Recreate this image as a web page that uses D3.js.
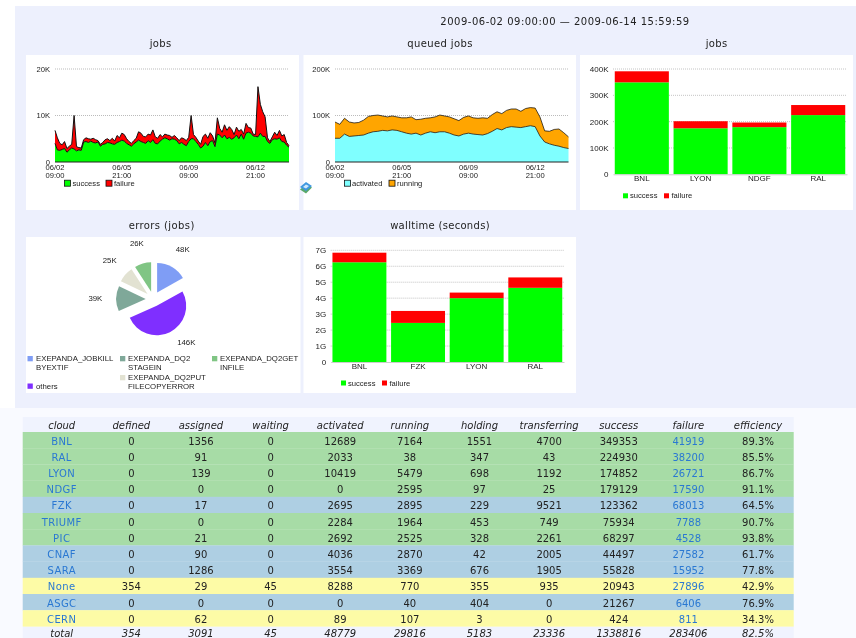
<!DOCTYPE html>
<html><head><meta charset="utf-8">
<script src="https://cdn.jsdelivr.net/npm/d3@7/dist/d3.min.js"></script>
<style>
html,body{margin:0;padding:0;background:#fff;overflow:hidden}
svg{display:block;filter:blur(0.5px)}
text{font-family:"Liberation Sans",sans-serif;fill:#222}
.ttl{font-family:"DejaVu Sans",sans-serif;font-size:10px;text-anchor:middle;fill:#222}
.tb{font-family:"DejaVu Sans",sans-serif;font-size:10px;text-anchor:middle}
</style></head><body>
<svg id="c" width="856" height="638"></svg>
<script>
// ---- time series: jobs (thousands, every 3 hours)
const jobsSuccess=[4.0,2.6,2.5,2.7,2.9,2.1,2.6,3.0,2.8,2.4,2.6,2.5,4.3,4.4,4.2,4.5,4.2,4.1,4.3,3.4,3.8,3.9,4.2,4.1,3.9,3.8,4.2,4.4,4.7,4.5,4.0,3.7,3.4,3.9,4.3,4.7,4.4,4.2,4.0,4.6,4.2,4.8,4.0,3.9,4.5,4.9,5.2,5.0,4.7,5.0,4.9,4.6,3.9,4.2,3.8,3.5,4.4,5.0,5.0,4.4,3.8,3.0,3.4,4.2,3.5,4.4,4.6,3.3,6.0,5.8,5.2,5.8,5.0,5.3,4.9,5.2,5.8,5.0,6.0,4.9,6.2,6.4,6.2,5.6,5.5,5.4,6.2,5.5,5.5,4.4,4.0,4.8,5.0,4.9,5.2,4.4,4.3,3.6,3.2];
const jobsFailure=[2.8,2.6,1.5,1.0,1.5,.8,.8,.8,7.2,.9,.5,.5,.5,.8,.8,.4,.9,.7,.3,.4,.4,.9,.8,.5,1.2,.7,1.5,.8,1.5,1.4,1.0,.7,.6,.7,.8,1.8,1.8,1.3,1.4,1.4,1.6,2.1,1.4,1.2,1.4,.5,.8,.8,1.0,.3,.8,.6,.7,1.0,1.2,1.1,.9,5.0,.9,.9,.7,.8,2.1,1.8,1.6,1.9,1.0,.8,3.5,1.4,1.2,2.2,1.8,2.3,2.1,.7,1.7,1.6,1.0,1.1,2.1,1.0,1.1,.4,.4,10.8,6.2,5.3,4.2,.8,.4,.6,1.4,.8,1.6,1.2,1.6,.6,.3];
// ---- time series: queued jobs (thousands, every 6 hours)
const queuedActivated=[51,51,60,55,56,57,58,62,65,66,68,67,69,68,65,62,60,62,58,62,65,63,65,65,62,58,56,60,62,60,59,58,61,66,72,69,74,76,75,74,76,78,76,56,43,39,36,34,31,29];
const queuedRunning=[35,30,34,31,28,28,32,36,35,35,31,30,30,29,30,33,37,29,34,32,30,34,36,34,35,35,33,36,37,35,35,37,33,36,36,35,37,38,39,35,39,39,40,41,24,27,34,37,32,25];
const timeTicks=["2009-06-02T09:00Z","2009-06-05T21:00Z","2009-06-09T09:00Z","2009-06-12T21:00Z"];
// ---- bars
const jobsClouds=["BNL","LYON","NDGF","RAL"];
const jobsBarSuccess=[349353,174852,179129,224930];
const jobsBarFailure=[41919,26721,17590,38200];
const wallClouds=["BNL","FZK","LYON","RAL"];
const wallSuccess=[6.25e9,2.45e9,4.0e9,4.65e9];
const wallFailure=[0.6e9,0.75e9,0.35e9,0.65e9];
// ---- pie
const errorNames=[["EXEPANDA_JOBKILL","BYEXTIF"],["others"],["EXEPANDA_DQ2","STAGEIN"],["EXEPANDA_DQ2PUT","FILECOPYERROR"],["EXEPANDA_DQ2GET","INFILE"]];
const errorValues=[48,146,39,25,26];
const errorColors=["#7f9df5","#7f2fff","#7fa899","#e2e2d2","#80c584"];
// ---- table
const tableHead=["cloud","defined","assigned","waiting","activated","running","holding","transferring","success","failure","efficiency"];
const tClouds=["BNL","RAL","LYON","NDGF","FZK","TRIUMF","PIC","CNAF","SARA","None","ASGC","CERN"];
const tKinds=["g","g","g","g","b","g","g","b","b","y","b","y"];
const tDefined=[0,0,0,0,0,0,0,0,0,354,0,0];
const tAssigned=[1356,91,139,0,17,0,21,90,1286,29,0,62];
const tWaiting=[0,0,0,0,0,0,0,0,0,45,0,0];
const tActivated=[12689,2033,10419,0,2695,2284,2692,4036,3554,8288,0,89];
const tRunning=[7164,38,5479,2595,2895,1964,2525,2870,3369,770,40,107];
const tHolding=[1551,347,698,97,229,453,328,42,676,355,404,3];
const tTransferring=[4700,43,1192,25,9521,749,2261,2005,1905,935,0,0];
const tSuccess=[349353,224930,174852,179129,123362,75934,68297,44497,55828,20943,21267,424];
const tFailure=[41919,38200,26721,17590,68013,7788,4528,27582,15952,27896,6406,811];
const tEfficiency=["89.3%","85.5%","86.7%","91.1%","64.5%","90.7%","93.8%","61.7%","77.8%","42.9%","76.9%","34.3%"];
const tTotal=["total","354","3091","45","48779","29816","5183","23336","1338816","283406","82.5%"];

const svg=d3.select("#c");
const rect=(g,x,y,w,h,f)=>g.append("rect").attr("x",x).attr("y",y).attr("width",w).attr("height",h).attr("fill",f);
rect(svg,0,0,856,638,"#f9faff");
rect(svg,0,0,856,6,"#fff");
rect(svg,0,0,15,408,"#fff");
rect(svg,15,6,841,402,"#edf0fd");
[[26,55,273,155],[303.5,55,272.5,155],[580,55,273,155],[26,237,274.5,156],[303.5,237,272.5,156]].forEach(b=>rect(svg,b[0],b[1],b[2],b[3],"#fff"));

const title=(t,x,y,ls)=>svg.append("text").attr("class","ttl").attr("x",x).attr("y",y).attr("dy","0.35em").attr("letter-spacing",ls||0).text(t);
title("2009-06-02 09:00:00 \u2014 2009-06-14 15:59:59",565,21,0.5);
title("jobs",160.7,43,.4);title("queued jobs",440,43,.4);title("jobs",716.7,43,.4);
title("errors (jobs)",161.7,225,.4);title("walltime (seconds)",440,225,.3);

const fmtK=v=>v===0?"0":(v/1000)+"K";
function legend(x,y,items,stroke){
  items.forEach(it=>{
    const g=svg.append("g");
    if(stroke) g.append("rect").attr("x",it.x).attr("y",y-3.5).attr("width",6).attr("height",6).attr("fill",it.c).attr("stroke","#111").attr("stroke-width",.8);
    else g.append("rect").attr("x",it.x).attr("y",y-2.5).attr("width",5).attr("height",5).attr("fill",it.c);
    g.append("text").attr("x",it.tx).attr("y",y).attr("dy","0.33em").attr("font-size",7.6).text(it.t);
  });
}
function areaChart(cfg){
  const n=cfg.a.length,t0=Date.UTC(2009,5,2,9);
  const dates=d3.range(n).map(i=>new Date(t0+i*cfg.stepH*3600e3));
  const x=d3.scaleTime().domain([t0,d3.max(dates)]).range([cfg.x0,cfg.x1]);
  const y=d3.scaleLinear().domain([0,cfg.max]).range([162,69]);
  const ax=d3.axisLeft(y).tickValues(cfg.ticks).tickSize(0).tickPadding(5).tickFormat(fmtK);
  const g=svg.append("g");
  g.append("g").selectAll("line").data(cfg.ticks.slice(1)).join("line")
   .attr("x1",cfg.x0).attr("x2",cfg.x1).attr("y1",y).attr("y2",y)
   .attr("stroke","#aaa").attr("stroke-width",.8).attr("stroke-dasharray","1,1");
  const rows=dates.map((d,i)=>({d,a:cfg.a[i],b:cfg.b[i]}));
  const st=d3.stack().keys(["a","b"])(rows);
  const area=d3.area().x(d=>x(d.data.d)).y0(d=>y(d[0])).y1(d=>y(d[1]));
  const top=d3.line().x(d=>x(d.data.d)).y(d=>y(d[1]));
  g.selectAll(".ar").data(st).join("path").attr("d",area).attr("fill",(d,i)=>[cfg.ca,cfg.cb][i]);
  g.selectAll(".ln").data(st).join("path").attr("d",top).attr("fill","none").attr("stroke","#111").attr("stroke-width",cfg.lw);
  g.append("line").attr("x1",cfg.x0).attr("x2",cfg.x1).attr("y1",162).attr("y2",162).attr("stroke","#222").attr("stroke-width",1);
  const ya=g.append("g").attr("transform",`translate(${cfg.x0},0)`).call(ax);
  ya.select(".domain").remove();
  ya.selectAll("text").attr("font-size",7.6).attr("font-family",'"Liberation Sans"');
  timeTicks.forEach(s=>{
    const d=new Date(s),px=x(d);
    g.append("text").attr("x",px).attr("y",167).attr("dy","0.33em").attr("text-anchor","middle").attr("font-size",7.6).text(d3.utcFormat("%m/%d")(d));
    g.append("text").attr("x",px).attr("y",175).attr("dy","0.33em").attr("text-anchor","middle").attr("font-size",7.6).text(d3.utcFormat("%H:%M")(d));
  });
}
areaChart({a:jobsSuccess.map(v=>v*1000),b:jobsFailure.map(v=>v*1000),stepH:3,x0:55,x1:289,max:20000,ticks:[0,10000,20000],ca:"#00ff00",cb:"#ff0000",lw:1});
areaChart({a:queuedActivated.map(v=>v*1000),b:queuedRunning.map(v=>v*1000),stepH:6,x0:335,x1:568.5,max:200000,ticks:[0,100000,200000],ca:"#7fffff",cb:"#ffa500",lw:.75});
legend(0,183.7,[{x:64.5,tx:72.5,c:"#00ff00",t:"success"},{x:106,tx:114,c:"#ff0000",t:"failure"}],true);
legend(0,183.7,[{x:344.5,tx:352,c:"#7fffff",t:"activated"},{x:389,tx:397,c:"#ffa500",t:"running"}],true);

function barChart(cfg){
  const x=d3.scaleBand().domain(cfg.cats).range([cfg.x0,cfg.x1]).paddingInner(.08).paddingOuter(.03);
  const y=d3.scaleLinear().domain([0,cfg.max]).range([cfg.y0,cfg.y1]);
  const g=svg.append("g");
  g.selectAll(".gr").data(cfg.ticks.slice(1)).join("line").attr("x1",cfg.x0).attr("x2",cfg.x1).attr("y1",y).attr("y2",y)
    .attr("stroke","#b5b5b5").attr("stroke-width",.8).attr("stroke-dasharray","1,1");
  const rows=cfg.cats.map((c,i)=>({c,s:cfg.s[i],f:cfg.f[i]}));
  const st=d3.stack().keys(["s","f"])(rows);
  g.selectAll(".l").data(st).join("g").attr("fill",(d,i)=>["#00ff00","#ff0000"][i])
   .selectAll("rect").data(d=>d).join("rect")
   .attr("x",d=>x(d.data.c)).attr("width",x.bandwidth()).attr("y",d=>y(d[1])).attr("height",d=>y(d[0])-y(d[1]));
  const xa=g.append("g").attr("transform",`translate(0,${cfg.y0})`).call(d3.axisBottom(x).tickSize(0).tickPadding(1.5));
  xa.select(".domain").attr("stroke","#ccc");
  xa.selectAll("text").attr("font-size",8).attr("font-family",'"Liberation Sans"');
  const ya=g.append("g").attr("transform",`translate(${cfg.x0},0)`).call(d3.axisLeft(y).tickValues(cfg.ticks).tickSize(0).tickPadding(4.5).tickFormat(cfg.fmt));
  ya.select(".domain").remove();
  ya.selectAll("text").attr("font-size",8).attr("font-family",'"Liberation Sans"');
}
barChart({cats:jobsClouds,s:jobsBarSuccess,f:jobsBarFailure,x0:613,x1:847,y0:174.3,y1:69,max:400000,ticks:[0,1e5,2e5,3e5,4e5],fmt:fmtK});
legend(0,195.8,[{x:623,tx:630,c:"#00ff00",t:"success"},{x:664,tx:671.5,c:"#ff0000",t:"failure"}]);
barChart({cats:wallClouds,s:wallSuccess,f:wallFailure,x0:330.7,x1:564,y0:362,y1:250.3,max:7e9,ticks:d3.range(0,8).map(v=>v*1e9),fmt:v=>v===0?"0":(v/1e9)+"G"});
legend(0,383,[{x:341,tx:348,c:"#00ff00",t:"success"},{x:382,tx:389.5,c:"#ff0000",t:"failure"}]);

// pie
const pie=d3.pie().sort(null)(errorValues);
const R=29.5,EX=7.6,LR=58,cx=153.3,cy=299;
const arc=d3.arc().innerRadius(0).outerRadius(R);
const pg=svg.append("g").attr("transform",`translate(${cx},${cy})`);
pie.forEach((p,i)=>{
  const m=(p.startAngle+p.endAngle)/2;
  pg.append("path").attr("d",arc(p)).attr("fill",errorColors[i]).attr("transform",`translate(${Math.sin(m)*EX},${-Math.cos(m)*EX})`);
  pg.append("text").attr("x",Math.sin(m)*LR+(i===1?7:0)).attr("y",-Math.cos(m)*LR-(i===1?8:0)).attr("dy","0.33em").attr("text-anchor","middle").attr("font-size",7.8).text(d3.format("d")(errorValues[i])+"K");
});
const legendPos=[[27.5,36,358.5],[27.5,36,386],[120,128,358.5],[120,128,377.5],[212,220,358.5]];
errorNames.forEach((nm,i)=>{
  const [sx,tx,y]=legendPos[i];
  rect(svg,sx,y-2.5,5.3,5.3,errorColors[i]);
  nm.forEach((s,j)=>svg.append("text").attr("x",tx).attr("y",y+j*8.6).attr("dy","0.33em").attr("font-size",7.8).text(s));
});

// small icon
const ic=svg.append("g").attr("transform","translate(306,187)");
ic.append("path").attr("d","M-6,1 L0,5 L6,-1 L0,-4 Z").attr("fill","#5aa86a").attr("transform","translate(0,1.5)");
ic.append("path").attr("d","M-6,0 L0,-5 L6,-1 L0,4 Z").attr("fill","#3f97e0");
ic.append("path").attr("d","M-3,0 L0,-2.5 L3,-1 L0,1.5 Z").attr("fill","#cfe8fb");

// table
const X0=22.7,X1=793.7,HT=417,TOP=432,RH=16.2;
const colX=d3.scaleLinear().domain([0,10]).range([61.7,758]);
const kind={g:"#a7dca6",b:"#aecfe3",y:"#fdfba6"};
const link="#2a78d2",tg=svg.append("g");
rect(tg,X0,HT,X1-X0,TOP-HT,"#f0f3fe");
rect(tg,X0,TOP+12*RH,X1-X0,638-TOP-12*RH,"#f0f3fe");
const tx=(s,i,y,cls)=>{const t=tg.append("text").attr("class","tb").attr("x",colX(i)).attr("y",y).attr("dy","0.36em").text(s);
  if(cls==="i") t.attr("font-style","italic").attr("font-size",8.8).attr("fill","#111");
  if(cls==="l") t.attr("fill",link).style("fill",link);return t;};
tableHead.forEach((h,i)=>tx(h,i,HT+8,"i"));
const tCols=[tDefined,tAssigned,tWaiting,tActivated,tRunning,tHolding,tTransferring,tSuccess,tFailure,tEfficiency];
tClouds.forEach((c,r)=>{
  const y=TOP+r*RH;
  rect(tg,X0,y,X1-X0,RH+.2,kind[tKinds[r]]);
  tx(c,0,y+RH/2+.8,"l").attr("letter-spacing",.4);
  tCols.forEach((col,k)=>tx(col[r],k+1,y+RH/2+.8,k===8?"l":""));
});
tTotal.forEach((v,i)=>tx(v,i,633.5,"i"));
</script>
</body></html>
